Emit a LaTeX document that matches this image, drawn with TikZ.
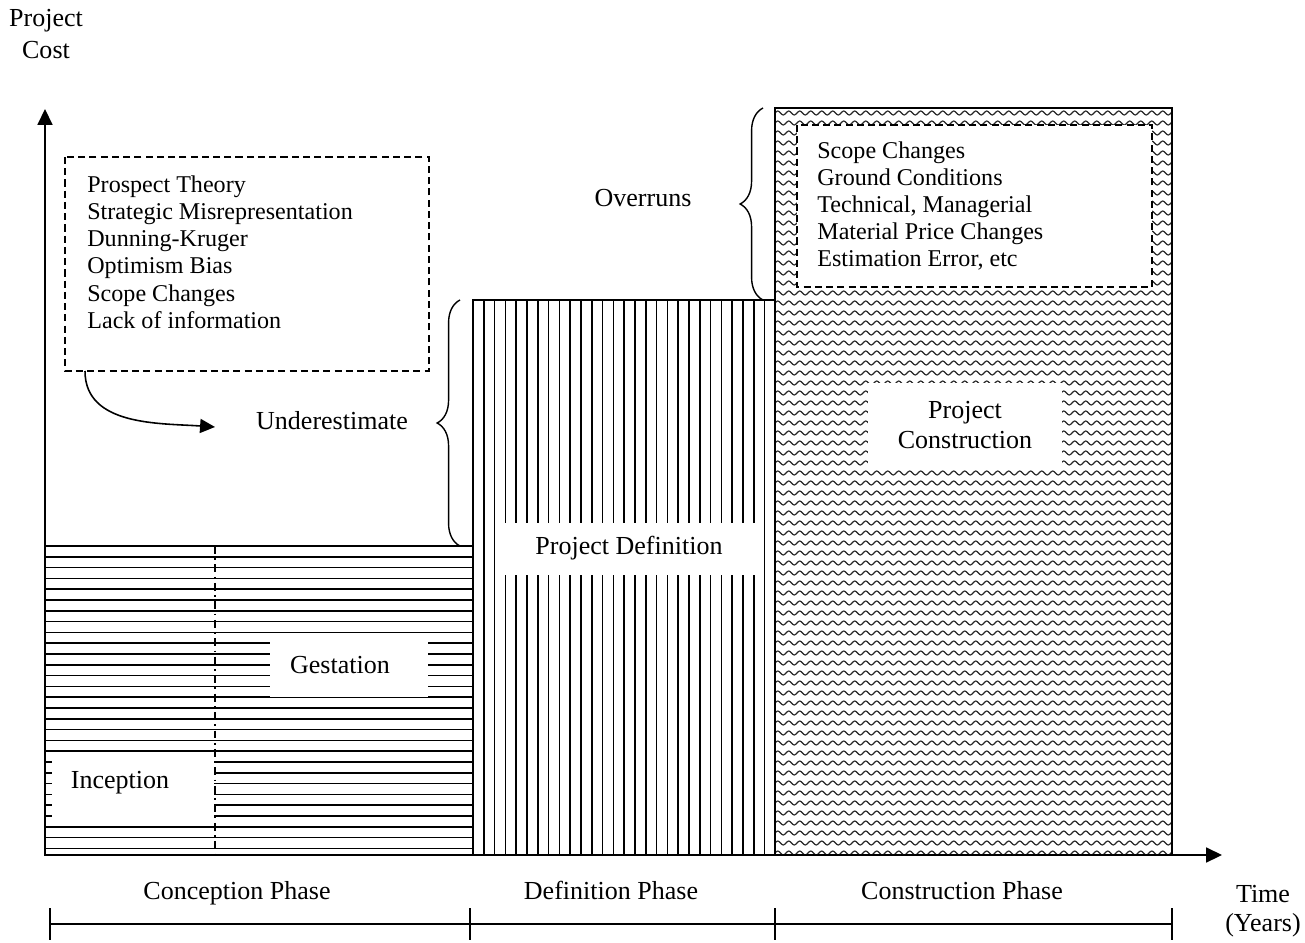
\documentclass[tikz,border=0pt]{standalone}
\usepackage{fontspec}
\setmainfont{Liberation Serif}
\usepackage{tikz}
\usetikzlibrary{positioning, arrows.meta, decorations.pathreplacing}

\begin{document}
\begin{tikzpicture}[x=0.2mm, y=-0.2mm,
    every node/.style={font=\fontsize{14.8}{15.6}\selectfont, inner sep=0pt},
    listtext/.style={anchor=west, align=left, font=\fontsize{13.7}{15.5}\selectfont},
    border/.style={line width=1pt},
    stripe/.style={line width=1pt},
    wave/.style={line width=0.65pt, black!85},
    dashbox/.style={line width=0.9pt, dash pattern=on 4pt off 2.4pt},
    axis/.style={line width=0.9pt, -{Triangle[length=9pt, width=8.5pt]}},
    brace/.style={decorate, decoration={brace, amplitude=13pt}, line width=0.8pt}]
  \useasboundingbox (0,0) rectangle (1305,942);

  % conception phase: horizontal stripes
  \foreach \i in {1,...,28}
    \draw[stripe] (45,546+\i*10.8) -- (473,546+\i*10.8);
  \fill[white] (52,755) rectangle (214,825);
  \node (incep) at (120,783) {Inception};
  \fill[white] (270,635) rectangle (428,697);
  \node (gest) at (340,665) {Gestation};
  \draw[line width=0.8pt, dash pattern=on 4.5pt off 2.5pt on 1pt off 2.5pt] (215,546) -- (215,855);

  % definition phase: vertical stripes
  \foreach \i in {1,...,27}
    \draw[stripe] (473+\i*10.8,300) -- (473+\i*10.8,855);
  \fill[white] (503,523) rectangle (757,575);
  \node (pdef) at (629,548) {Project Definition};

  % construction phase: waves
  \begin{scope}
    \clip (775,108) rectangle (1172,855);
    \foreach \y in {113,123,...,853}
      \draw[wave] (775,\y) \foreach \k in {1,...,37} {sin ++(2.75,-2) cos ++(2.75,2) sin ++(2.75,2) cos ++(2.75,-2)};
  \end{scope}
  \fill[white] (868,383) rectangle (1062,470);
  \node[align=center] (pcons) at (965,425) {Project\\[1.9pt]Construction};
  \fill[white] (797,125) rectangle (1152,287);
  \draw[dashbox] (797,125) rectangle (1152,287);
  \node[listtext] (overlist) at (817,206)
    {Scope Changes\\Ground Conditions\\Technical, Managerial\\Material Price Changes\\Estimation Error, etc};

  % phase outlines
  \draw[border] (45,546) rectangle (473,855);
  \draw[border] (473,300) rectangle (775,855);
  \draw[border] (775,108) rectangle (1172,855);

  % axes
  \draw[axis] (45,855) -- (45,109);
  \draw[axis] (45,855) -- (1222,855);
  \node[align=center] (ylab) at (46,34) {Project\\[2.4pt]Cost};
  \node[align=center] (xlab) at (1263,911) {Time\\[1pt](Years)};

  % causes of underestimate
  \draw[dashbox] (65,157) rectangle (429,371);
  \node[listtext] (causes) at (87,252)
    {Prospect Theory\\Strategic Misrepresentation\\Dunning-Kruger\\Optimism Bias\\Scope Changes\\Lack of information};
  \coordinate (cstart) at (85,371);
  \coordinate (cend) at (215,427);
  \draw[line width=0.9pt, -{Triangle[length=8.5pt, width=8pt]}] (cstart) to[out=-90, in=176] (cend);
  \node (under) at (332,421) {Underestimate};
  \draw[brace] (460,546) -- (460,300);
  \node (over) at (643,198) {Overruns};
  \draw[brace] (763,300) -- (763,108);

  % phase timeline
  \node[anchor=base] (conph) at (237,899) {Conception Phase};
  \node[anchor=base] (defph) at (611,899) {Definition Phase};
  \node[anchor=base] (conspha) at (962,899) {Construction Phase};
  \draw[line width=0.9pt] (50,924) -- (1172,924);
  \foreach \x in {50,470,775,1172}
    \draw[line width=0.9pt] (\x,908) -- (\x,940);
\end{tikzpicture}
\end{document}
